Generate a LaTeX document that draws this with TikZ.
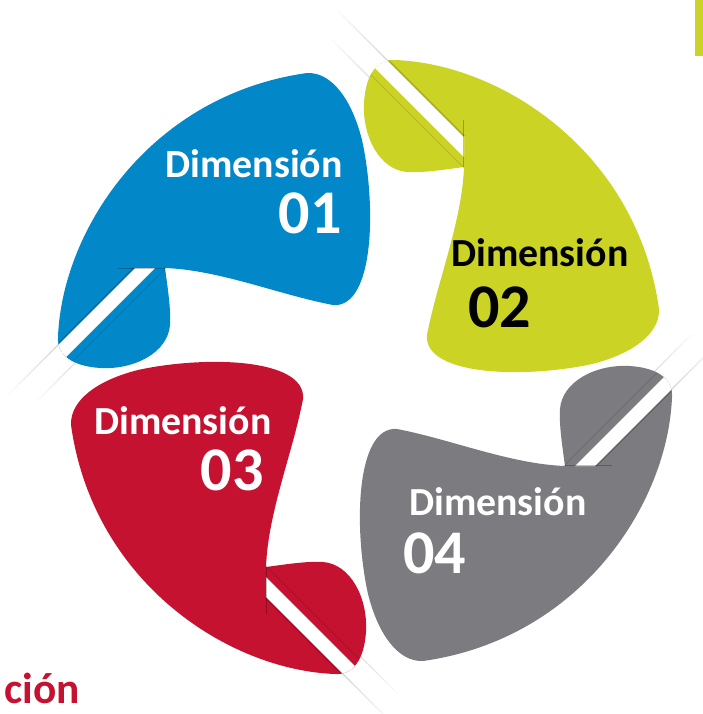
\documentclass[tikz,border=0pt]{standalone}
\usepackage{fontspec}
\setmainfont{Carlito}
\definecolor{pblue}{RGB}{2,136,201}
\definecolor{pgreen}{RGB}{203,212,36}
\definecolor{pred}{RGB}{196,18,48}
\definecolor{pgray}{RGB}{124,123,128}
\newcommand{\petalpath}{(165,268) .. controls (168,290) and (171,310) .. (170,325)
 .. controls (168,352) and (135,370) .. (100,368)
 .. controls (72,366) and (57,355) .. (58,337)
 .. controls (62,230) and (150,95) .. (307,73)
 .. controls (332,72) and (352,100) .. (362,140)
 .. controls (372,185) and (375,255) .. (358,288)
 .. controls (352,300) and (343,306) .. (333,305)
 .. controls (280,295) and (220,270) .. (165,268) -- cycle}
\tikzset{
  lbl/.style={font=\fontsize{34}{34}\selectfont\bfseries, inner sep=0pt},
  num/.style={font=\fontsize{53}{53}\selectfont\bfseries, inner sep=0pt},
}
\begin{document}
\begin{tikzpicture}[x=0.03cm,y=-0.03cm]
\useasboundingbox (0,0) rectangle (703,714);
% faint streak lines outside the petals
\foreach \ang in {0,-90,-180,90}{
  \begin{scope}[rotate around={\ang:(365,367)}]
    \foreach \k in {0,...,11}{
      \pgfmathtruncatemacro{\pc}{38-\k*3}
      \draw[gray!\pc!white, line width=1pt]
        ({135-66-\k*5},{268+66+\k*5}) -- ({135-66-(\k+1)*5},{268+66+(\k+1)*5});
      \draw[gray!\pc!white, line width=1pt]
        ({170-72-\k*5},{268+72+\k*5}) -- ({170-72-(\k+1)*5},{268+72+(\k+1)*5});
    }
  \end{scope}
}
% petals
\foreach \ang/\col in {0/pblue,-90/pgreen,-180/pgray,90/pred}{
  \begin{scope}[rotate around={\ang:(365,367)}]
    \fill[\col] \petalpath;
    \begin{scope}
      \clip \petalpath;
      \fill[white] (135,268) -- (155,268) -- (35,388) -- (15,388) -- cycle;
      \draw[black, opacity=0.18, line width=1.5pt] (134,268) -- (14,388);
      \draw[black, opacity=0.12, line width=0.8pt] (166,268) -- (46,388);
      \draw[black, opacity=0.25, line width=1.5pt] (118,268.5) -- (166,268.5);
    \end{scope}
  \end{scope}
}
% top-right bar
\fill[pgreen] (695,0) rectangle (703,56);
% labels
\node[lbl, text=white, anchor=base east] (d1) at (343,177) {Dimensión};
\node[num, text=white, anchor=base east] (n1) at (342,233) {01};
\node[lbl, text=black, anchor=base west] (d2) at (451,266) {Dimensión};
\node[num, text=black, anchor=base west] (n2) at (468,327) {02};
\node[lbl, text=white, anchor=base west] (d3) at (94,434) {Dimensión};
\node[num, text=white, anchor=base east] (n3) at (264,490) {03};
\node[lbl, text=white, anchor=base west] (d4) at (409,515) {Dimensión};
\node[num, text=white, anchor=base west] (n4) at (403,573) {04};
\node[font=\fontsize{37}{37}\selectfont\bfseries, inner sep=0pt, text=pred, anchor=base west] (c) at (4,703) {ción};
\end{tikzpicture}
\end{document}
